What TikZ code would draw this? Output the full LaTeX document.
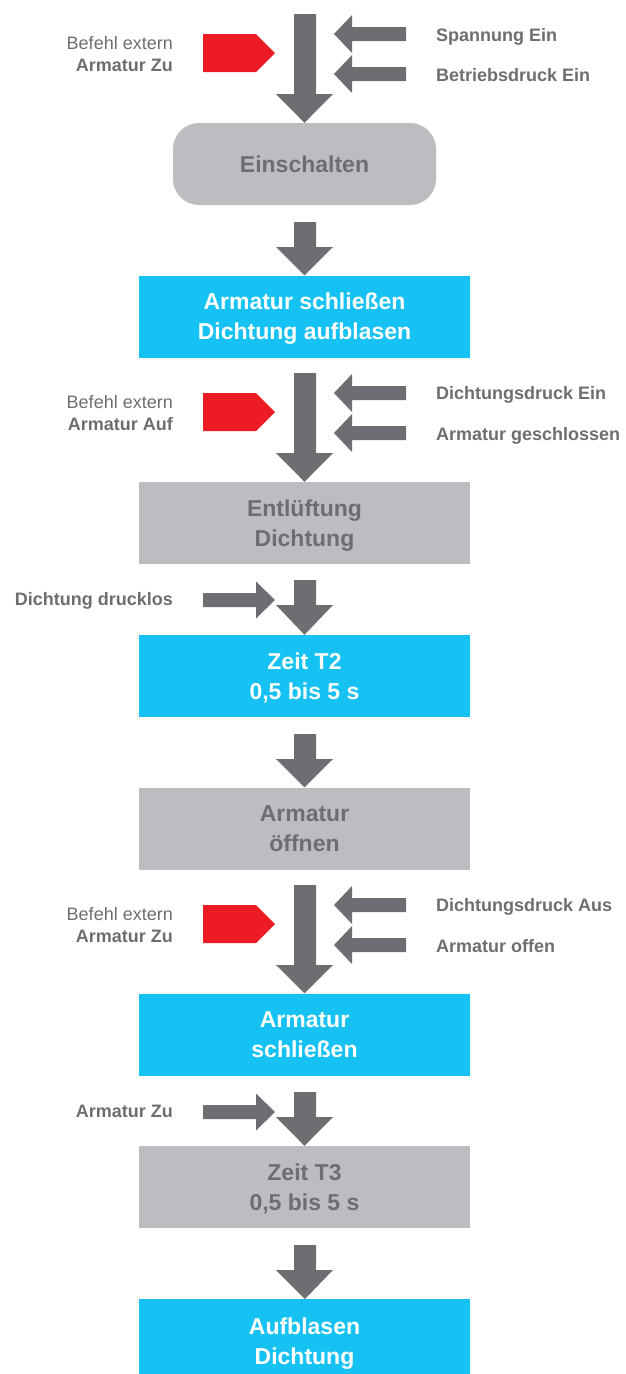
\documentclass[tikz,border=0pt]{standalone}
\usepackage{fontspec}
\setmainfont{Liberation Sans}
\definecolor{ag}{HTML}{6D6E71}
\definecolor{bg}{HTML}{BCBDC0}
\definecolor{bl}{HTML}{16C2F3}
\definecolor{rd}{HTML}{ED1C24}
\newcommand{\dnarr}[3]{\fill[ag] (294,#1) -- (316,#1) -- (316,#2) -- (333,#2) -- (#3.north) -- (276,#2) -- (294,#2) -- cycle;}
\newcommand{\larr}[1]{\fill[ag] (406,{#1-7}) -- (352,{#1-7}) -- (352,{#1-19}) -- (334,#1) -- (352,{#1+19}) -- (352,{#1+7}) -- (406,{#1+7}) -- cycle;}
\newcommand{\rarr}[1]{\fill[ag] (203,{#1-7}) -- (256,{#1-7}) -- (256,{#1-18.5}) -- (275,#1) -- (256,{#1+18.5}) -- (256,{#1+7}) -- (203,{#1+7}) -- cycle;}
\newcommand{\redarr}[1]{\fill[rd] (203,{#1+20}) -- (256,{#1+20}) -- (275,{#1+39}) -- (256,{#1+58}) -- (203,{#1+58}) -- cycle;}
\begin{document}
\begin{tikzpicture}[x=1pt,y=-1pt,
  box/.style={draw=none, minimum width=331pt, minimum height=82pt, inner sep=0pt, align=center, font=\fontsize{23}{30}\selectfont\bfseries},
  two/.style={text height=46.5pt, text depth=0pt},
  graybox/.style={box, fill=bg, text=ag},
  bluebox/.style={box, fill=bl, text=white},
  lbl/.style={inner sep=0pt, text=ag, font=\fontsize{18}{21}\selectfont},
  blbl/.style={lbl, font=\fontsize{18}{21}\selectfont\bfseries}]
\useasboundingbox (0,0) rectangle (626,1374);

% boxes
\node[graybox, minimum width=263pt, rounded corners=26pt] (b1) at (304.5,164) {Einschalten};
\node[bluebox, two] (b2) at (304.5,316.5) {Armatur schließen\\Dichtung aufblasen};
\node[graybox, two] (b3) at (304.5,523) {Entlüftung\\Dichtung};
\node[bluebox, two] (b4) at (304.5,676) {Zeit T2\\0,5 bis 5 s};
\node[graybox, two] (b5) at (304.5,828.5) {Armatur\\öffnen};
\node[bluebox, two] (b6) at (304.5,1034.5) {Armatur\\schließen};
\node[graybox, two] (b7) at (304.5,1187) {Zeit T3\\0,5 bis 5 s};
\fill[bl] (139,1299) rectangle (470,1374);
\node[inner sep=0pt, align=center, text=white, font=\fontsize{23}{30}\selectfont\bfseries, two] (b8) at (304.5,1341) {Aufblasen\\Dichtung};
\coordinate (b8top) at (305,1299);

% section 1
\dnarr{14}{94}{b1}
\redarr{14}
\larr{34}
\larr{74}
\node[lbl, anchor=base east] (l1a) at (173,49) {Befehl extern};
\node[blbl, anchor=base east] (l1b) at (173,71) {Armatur Zu};
\node[blbl, anchor=base west] (r1a) at (436,41) {Spannung Ein};
\node[blbl, anchor=base west] (r1b) at (436,81) {Betriebsdruck Ein};

\dnarr{222}{247}{b2}

% section 2
\dnarr{373}{453}{b3}
\redarr{373}
\larr{393}
\larr{433}
\node[lbl, anchor=base east] (l2a) at (173,408) {Befehl extern};
\node[blbl, anchor=base east] (l2b) at (173,430) {Armatur Auf};
\node[blbl, anchor=base west] (r2a) at (436,399) {Dichtungsdruck Ein};
\node[blbl, anchor=base west] (r2b) at (436,440) {Armatur geschlossen};

% drucklos
\dnarr{580}{605}{b4}
\rarr{600}
\node[blbl, anchor=base east] (l3) at (173,605) {Dichtung drucklos};

\dnarr{734}{759}{b5}

% section 3
\dnarr{885}{965}{b6}
\redarr{885}
\larr{905}
\larr{945}
\node[lbl, anchor=base east] (l4a) at (173,920) {Befehl extern};
\node[blbl, anchor=base east] (l4b) at (173,942) {Armatur Zu};
\node[blbl, anchor=base west] (r4a) at (436,911) {Dichtungsdruck Aus};
\node[blbl, anchor=base west] (r4b) at (436,952) {Armatur offen};

% Armatur Zu
\dnarr{1092}{1117}{b7}
\rarr{1112}
\node[blbl, anchor=base east] (l5) at (173,1117) {Armatur Zu};

\fill[ag] (294,1245) -- (316,1245) -- (316,1270) -- (333,1270) -- (b8top) -- (276,1270) -- (294,1270) -- cycle;
\end{tikzpicture}
\end{document}
